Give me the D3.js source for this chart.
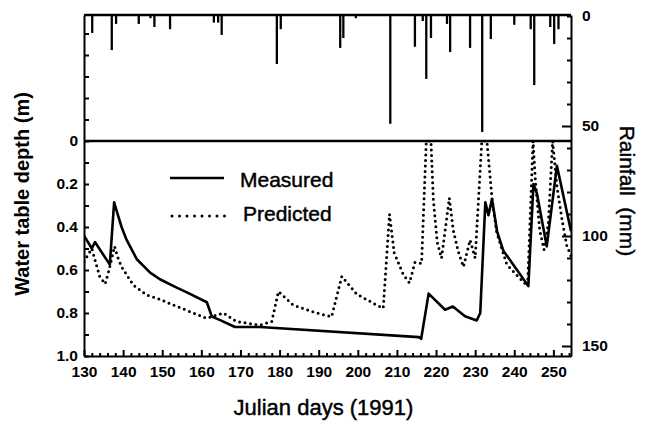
<!DOCTYPE html>
<html>
<head>
<meta charset="utf-8">
<script src="https://cdn.jsdelivr.net/npm/d3@7"></script>
<style>
  body { margin: 0; background: #fff; }
  svg { display: block; font-family: "Liberation Sans", Arial, sans-serif; }
  .axis path, .axis line { stroke: #000; stroke-width: 2; }
  .axis text { font-size: 15.5px; font-weight: bold; fill: #000; }
  .title { fill: #000; stroke: #000; stroke-width: 0.45px; }
</style>
</head>
<body>
<svg width="651" height="425"></svg>
<script>
// rainfall events (day, mm)
var rainDays = [132.1, 137.1, 138.2, 144, 147, 148, 152, 163.2, 164.3, 165.2, 179.3, 180.3, 195.5, 196.3, 199.5,
  208.3, 214.6, 216.6, 217.5, 218.7, 222.8, 223.6, 228.7, 231.8, 234, 240, 244.2, 245.1, 249.2, 250.2, 251.3];
var rainMm = [7.7, 15.5, 3.6, 3.6, 1, 5, 6, 3, 3, 8.6, 21.8, 6, 14.5, 10, 1,
  49, 14, 2.3, 28.6, 10, 3.6, 16.4, 14.5, 52.7, 10.5, 4, 6, 31.4, 5, 12.7, 6];

// measured water table depth (m)
var measuredDays = [130, 132, 132.8, 136.6, 137.7, 138.6, 139.6, 140.9, 143.5, 146.9, 149.4, 153.7, 156.3, 161.4,
  162.7, 164.8, 168.6, 175, 215.6, 216.2, 218.1, 222.3, 224.3, 227.4, 230.4, 231.3, 232.6, 233.4, 234.3, 235.6,
  237.2, 240.7, 243.6, 244.9, 245.8, 248.3, 250.9, 254.5];
var measuredDepth = [0.44, 0.5, 0.47, 0.575, 0.285, 0.34, 0.4, 0.46, 0.55, 0.612, 0.643, 0.682, 0.704, 0.75,
  0.817, 0.833, 0.865, 0.865, 0.912, 0.92, 0.71, 0.785, 0.77, 0.815, 0.835, 0.8, 0.285, 0.345, 0.27, 0.42,
  0.51, 0.6, 0.675, 0.2, 0.245, 0.49, 0.115, 0.42];

// predicted water table depth (m)
var predictedDays = [130, 132, 134, 135.4, 136.4, 137.8, 138.6, 139.6, 142.6, 146, 149.4, 152.8, 158, 161.4, 163,
  165.6, 169, 175, 178, 179.7, 183.5, 189.5, 193.3, 195.9, 199.7, 204, 206.5, 208.1, 209.3, 211.6, 213.2, 214.6,
  216.3, 217.5, 218.7, 219.3, 220.3, 221.4, 223.4, 224.4, 225.7, 227, 228.7, 230, 231.7, 233, 234.3, 235.5, 238.1,
  240.7, 243.4, 244.8, 245.4, 246.5, 247.6, 248.7, 249.8, 250.9, 252.2, 253.4, 254.5];
var predictedDepth = [0.56, 0.5, 0.63, 0.665, 0.6, 0.49, 0.54, 0.585, 0.67, 0.716, 0.736, 0.763, 0.8, 0.825, 0.815,
  0.8, 0.84, 0.856, 0.84, 0.7, 0.763, 0.8, 0.817, 0.63, 0.712, 0.755, 0.778, 0.34, 0.52, 0.62, 0.66, 0.565,
  0.57, 0, 0, 0.27, 0.47, 0.545, 0.265, 0.415, 0.515, 0.585, 0.46, 0.545, 0, 0, 0.265, 0.425, 0.575,
  0.625, 0.675, 0, 0.185, 0.415, 0.505, 0.385, 0, 0.21, 0.365, 0.485, 0.535];

var dayTicks = d3.range(130, 255, 2);
var dayLabels = d3.range(130, 251, 10);
var depthLabels = [0, 0.2, 0.4, 0.6, 0.8, 1.0];
var rainLabels = [0, 50, 100, 150];

var svg = d3.select("svg");
var plotL = 84, plotR = 571, plotT = 15, plotB = 356, zeroY = 141;

var x = d3.scaleLinear().domain([130, 254.5]).range([plotL, plotR]);
var yDepth = d3.scaleLinear().domain([0, 1]).range([zeroY, plotB]);
var yDepthFull = yDepth.copy().domain([yDepth.invert(plotT), 1]).range([plotT, plotB]);
var yRain = d3.scaleLinear().domain([0, 150]).range([16, 346]);
var yRainFull = yRain.copy().domain([yRain.invert(plotT), yRain.invert(plotB)]).range([plotT, plotB]);

// frame top + zero line
svg.append("line").attr("x1", plotL).attr("x2", plotR).attr("y1", plotT).attr("y2", plotT)
  .attr("stroke", "#000").attr("stroke-width", 2.5);
svg.append("line").attr("x1", plotL).attr("x2", plotR).attr("y1", yDepth(0)).attr("y2", yDepth(0))
  .attr("stroke", "#000").attr("stroke-width", 2.5);

// rainfall bars hanging from top
svg.append("g").selectAll("line")
  .data(rainDays)
  .enter().append("line")
  .attr("x1", function(d) { return x(d); })
  .attr("x2", function(d) { return x(d); })
  .attr("y1", yRain(0))
  .attr("y2", function(d, i) { return yRain(rainMm[i]); })
  .attr("stroke", "#000")
  .attr("stroke-width", 2.3);

// bottom axis
var xAxis = svg.append("g").attr("class", "axis")
  .attr("transform", "translate(0," + plotB + ")")
  .call(d3.axisBottom(x).tickValues(dayTicks).tickSize(-3).tickSizeOuter(0).tickPadding(10)
    .tickFormat(function(d) { return dayLabels.indexOf(d) >= 0 ? d : ""; }));
xAxis.selectAll(".tick line")
  .attr("y2", function(d) { return d % 10 == 0 ? -6 : -3; })
  .attr("stroke-width", 1.5);

// left axis
var leftTicks = d3.range(-5, 11).map(function(i) { return i / 10; });
var yAxis = svg.append("g").attr("class", "axis")
  .attr("transform", "translate(" + plotL + ",0)")
  .call(d3.axisLeft(yDepthFull).tickValues(leftTicks).tickSize(-5).tickSizeOuter(0).tickPadding(6)
    .tickFormat(function(d) {
      var r = Math.round(d * 10);
      if (r < 0 || r % 2 != 0) return "";
      return r == 0 ? "0" : d3.format(".1f")(d);
    }));
yAxis.selectAll(".tick line").attr("stroke-width", 1.8);

// right axis
var rightTicks = d3.range(0, 151, 10);
var rAxis = svg.append("g").attr("class", "axis")
  .attr("transform", "translate(" + plotR + ",0)")
  .call(d3.axisRight(yRainFull).tickValues(rightTicks).tickSize(-4).tickSizeOuter(0).tickPadding(11)
    .tickFormat(function(d) { return rainLabels.indexOf(d) >= 0 ? d : ""; }));
rAxis.selectAll(".tick line")
  .attr("x2", function(d) { return d % 50 == 0 && d > 0 ? -9 : -4; })
  .attr("stroke-width", 1.8);

// clip for the depth lines
svg.append("clipPath").attr("id", "clip")
  .append("rect").attr("x", plotL).attr("y", zeroY - 1).attr("width", plotR - plotL).attr("height", plotB - zeroY + 1);

var measured = measuredDays.map(function(d, i) { return [d, measuredDepth[i]]; });
var predicted = predictedDays.map(function(d, i) { return [d, predictedDepth[i]]; });

var line = d3.line()
  .x(function(d) { return x(d[0]); })
  .y(function(d) { return yDepth(d[1]); });

svg.append("path").datum(predicted)
  .attr("clip-path", "url(#clip)")
  .attr("d", line)
  .attr("fill", "none")
  .attr("stroke", "#000")
  .attr("stroke-width", 3)
  .attr("stroke-linecap", "round")
  .attr("stroke-dasharray", "0 5.5");

svg.append("path").datum(measured)
  .attr("clip-path", "url(#clip)")
  .attr("d", line)
  .attr("fill", "none")
  .attr("stroke", "#000")
  .attr("stroke-width", 2.6)
  .attr("stroke-linejoin", "round");

// legend
var legend = svg.append("g");
legend.append("line").attr("x1", 170).attr("x2", 224).attr("y1", 178).attr("y2", 178)
  .attr("stroke", "#000").attr("stroke-width", 2.6);
legend.append("line").attr("x1", 172).attr("x2", 226).attr("y1", 216).attr("y2", 216)
  .attr("stroke", "#000").attr("stroke-width", 3).attr("stroke-linecap", "round").attr("stroke-dasharray", "0 7.5");
legend.append("text").attr("class", "title").attr("x", 240).attr("y", 187).text("Measured")
  .style("font-size", "21px");
legend.append("text").attr("class", "title").attr("x", 243).attr("y", 221).text("Predicted")
  .style("font-size", "21px");

// axis titles
svg.append("text").attr("class", "title")
  .attr("x", (plotL + plotR) / 2 - 4).attr("y", 415)
  .attr("text-anchor", "middle")
  .style("font-size", "22px")
  .text("Julian days (1991)");

svg.append("text")
  .attr("transform", "translate(29,194) rotate(-90)")
  .attr("text-anchor", "middle")
  .style("font-size", "20px").style("font-weight", "bold")
  .text("Water table depth (m)");

svg.append("text").attr("class", "title")
  .attr("transform", "translate(620,191) rotate(90)")
  .attr("text-anchor", "middle")
  .style("font-size", "21px")
  .text("Rainfall\u00a0\u00a0(mm)");
</script>
</body>
</html>
